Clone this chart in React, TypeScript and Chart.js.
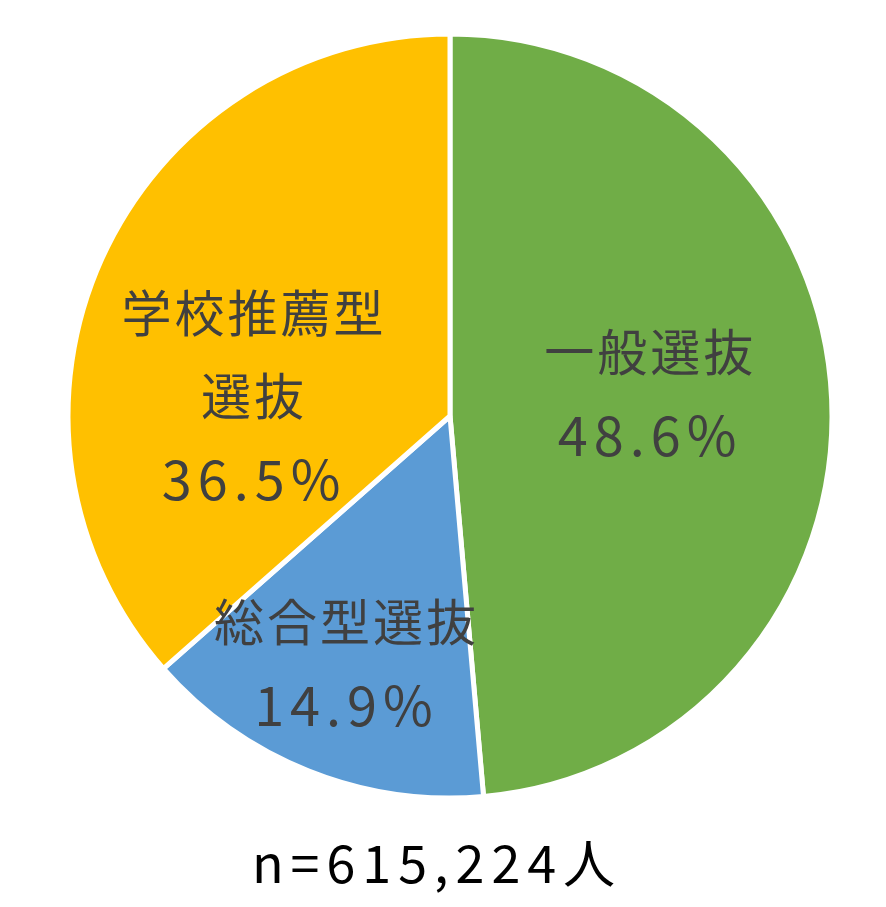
import React, { useRef, useEffect } from "react";
import { Chart, registerables } from "chart.js";

Chart.register(...registerables);

const categories = ["一般選抜", "総合型選抜", "学校推薦型選抜"];
const labelLines = [["一般選抜"], ["総合型選抜"], ["学校推薦型", "選抜"]];
const shares = [48.6, 14.9, 36.5];
const colors = ["#70AD47", "#5B9BD5", "#FFC000"];
const footnote = "n=615,224人";

// label anchor relative to pie centre, in units of the radius
const labelOffsets = [
  [0.524, -0.06],
  [-0.271, 0.647],
  [-0.513, -0.053],
];

const labelPlugin = {
  id: "sliceLabels",
  afterDraw(chart: any) {
    const ctx = chart.ctx;
    const arcs = chart.getDatasetMeta(0).data;
    if (!arcs.length) return;
    const { x: cx, y: cy, outerRadius: r } = arcs[0];
    ctx.save();
    ctx.fillStyle = "#404040";
    ctx.textAlign = "center";
    ctx.textBaseline = "middle";
    const lineH = 83;
    arcs.forEach((_: any, i: number) => {
      const lines = [...labelLines[i], shares[i].toFixed(1) + "%"];
      const ax = cx + labelOffsets[i][0] * r;
      const ay = cy + labelOffsets[i][1] * r;
      const top = ay - ((lines.length - 1) * lineH) / 2;
      lines.forEach((t, j) => {
        const isNum = j === lines.length - 1;
        ctx.font = isNum ? '54px "Noto Sans CJK JP"' : '50px "Noto Sans CJK JP"';
        ctx.letterSpacing = isNum ? "6px" : "3px";
        ctx.fillText(t, ax, top + j * lineH + (isNum ? 1 : 0));
      });
    });
    ctx.fillStyle = "#000000";
    ctx.font = '52px "Noto Sans CJK JP"';
    ctx.letterSpacing = "7px";
    ctx.fillText(footnote, cx - 13, cy + 447);
    ctx.restore();
  },
};

export default function App() {
  const chartRef = useRef<HTMLCanvasElement | null>(null);

  useEffect(() => {
    if (!chartRef.current) return;
    const chart = new Chart(chartRef.current, {
      type: "pie",
      data: {
        labels: categories,
        datasets: [
          {
            data: shares,
            backgroundColor: colors,
            borderColor: "#ffffff",
            borderWidth: 5,
          },
        ],
      },
      options: {
        responsive: true,
        maintainAspectRatio: false,
        animation: false,
        layout: { padding: { left: 57.5, top: 23.5, right: 43.5, bottom: 98.5 } },
        plugins: {
          legend: { display: false },
          tooltip: { enabled: false },
        },
      },
      plugins: [labelPlugin],
    });
    return () => {
      chart.destroy();
    };
  }, []);

  return (
    <div style={{ width: "870px", height: "891px" }}>
      <canvas ref={chartRef}></canvas>
    </div>
  );
}
